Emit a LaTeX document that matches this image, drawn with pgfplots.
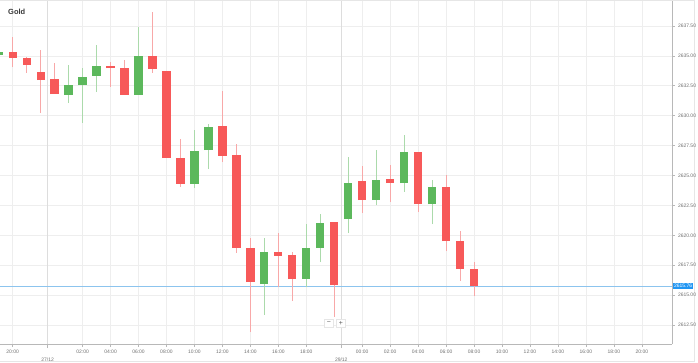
\documentclass[border=0pt]{standalone}
\usepackage{fontspec}
\setmainfont{Liberation Sans}
\usepackage{pgfplots}
\usepackage{pgfplotstable}
\pgfplotsset{compat=1.18}
\definecolor{cred}{HTML}{F75959}
\definecolor{cgreen}{HTML}{5CB85C}
\definecolor{credw}{HTML}{F8A8A8}
\definecolor{cgreenw}{HTML}{ABDAAB}
\definecolor{gridc}{HTML}{EEEEEE}
\definecolor{gridd}{HTML}{DDDDDD}
\definecolor{axisc}{HTML}{B8B8B8}
\definecolor{labc}{HTML}{707070}
\definecolor{pricebl}{HTML}{2196F3}
\definecolor{priceln}{HTML}{8CC4EE}
\definecolor{framec}{HTML}{E6E6E6}

\pgfplotstableread{
i O H L C
0 2635.32 2636.58 2634.07 2634.82
1 2634.82 2634.90 2633.57 2634.24
2 2633.65 2635.49 2630.22 2632.98
3 2633.06 2634.40 2631.81 2631.81
7 2634.15 2634.49 2632.40 2633.98
8 2633.98 2634.65 2631.73 2631.73
10 2634.99 2638.67 2633.57 2633.90
11 2633.73 2633.73 2626.46 2626.46
12 2626.46 2628.05 2624.04 2624.29
15 2629.14 2632.06 2626.12 2626.63
16 2626.71 2627.63 2618.52 2618.93
17 2618.93 2619.77 2611.91 2616.09
19 2618.60 2620.19 2615.67 2618.27
20 2618.35 2618.60 2614.50 2616.34
23 2621.11 2621.11 2613.17 2615.84
25 2624.53 2625.79 2621.86 2622.95
27 2624.70 2625.87 2622.78 2624.37
29 2626.96 2626.96 2621.94 2622.61
31 2624.04 2625.04 2618.68 2619.52
32 2619.52 2620.36 2616.18 2617.18
33 2617.18 2617.76 2614.92 2615.76
}\redtab

\pgfplotstableread{
i O H L C
-1 2635.07 2635.41 2634.99 2635.32
4 2631.73 2634.24 2631.06 2632.56
5 2632.56 2633.98 2629.39 2633.23
6 2633.32 2635.91 2631.98 2634.15
9 2631.73 2637.41 2631.73 2634.99
13 2624.29 2628.80 2623.95 2627.04
14 2627.13 2629.30 2625.54 2629.05
18 2615.92 2619.77 2613.34 2618.60
21 2616.34 2620.94 2615.67 2618.93
22 2618.93 2621.78 2617.76 2621.02
24 2621.36 2626.54 2620.19 2624.39
26 2622.95 2627.13 2622.53 2624.62
28 2624.37 2628.38 2623.62 2626.96
30 2622.61 2624.62 2620.94 2624.04
}\greentab

\pgfplotsset{candle/.style={only marks, mark=*, mark size=0pt,
  mark options={draw opacity=0, fill opacity=0}, forget plot,
  error bars/y dir=plus, error bars/y explicit, error bars/error mark=none}}

\begin{document}
\begin{tikzpicture}
\path[use as bounding box] (0,-19bp) rectangle (698bp,344bp);
\draw[framec, line width=0.7bp] (0,-17bp) -- (694bp,-17bp) -- (694bp,343.3bp) -- (0,343.3bp);
\begin{axis}[
  at={(0,0)}, anchor=south west,
  scale only axis, width=672bp, height=343bp,
  xmin=-0.908, xmax=47.16, ymin=2610.91, ymax=2639.59,
  axis x line*=bottom, axis y line*=right,
  axis line style={axisc, line width=0.8bp},
  ytick={2612.5,2615,2617.5,2620,2622.5,2625,2627.5,2630,2632.5,2635,2637.5},
  yticklabels={2612.50,2615.00,2617.50,2620.00,2622.50,2625.00,2627.50,2630.00,2632.50,2635.00,2637.50},
  xtick={0,5,7,9,11,13,15,17,19,21,25,27,29,31,33,35,37,39,41,43,45},
  xticklabels={20:00,02:00,04:00,06:00,08:00,10:00,12:00,14:00,16:00,18:00,00:00,02:00,04:00,06:00,08:00,10:00,12:00,14:00,16:00,18:00,20:00},
  extra x ticks={2.5,23.5},
  extra x tick labels={27/12,29/12},
  extra x tick style={grid style={gridd, line width=0.7bp}, tick label style={yshift=-6bp}, major tick length=4bp},
  grid=major, grid style={gridc, line width=0.6bp},
  tick align=outside, major tick length=3bp,
  tick style={axisc, line width=0.6bp},
  ticklabel style={font=\fontsize{5}{6}\selectfont, text=labc},
  yticklabel style={xshift=-0.5bp},
]
\addplot[priceln, line width=0.8bp, forget plot] coordinates {(-1,2615.76) (48,2615.76)};
% wicks
\addplot[candle, error bars/error bar style={credw, line width=1bp}]
  table[x=i, y=L, y error expr=\thisrow{H}-\thisrow{L}] {\redtab};
\addplot[candle, error bars/error bar style={cgreenw, line width=1bp}]
  table[x=i, y=L, y error expr=\thisrow{H}-\thisrow{L}] {\greentab};
% bodies
\addplot[candle, error bars/error bar style={cred, line width=8.3bp}]
  table[x=i, y=C, y error expr=\thisrow{O}-\thisrow{C}] {\redtab};
\addplot[candle, error bars/error bar style={cgreen, line width=8.3bp}]
  table[x=i, y=O, y error expr=\thisrow{C}-\thisrow{O}] {\greentab};
\coordinate (pl) at (axis cs:47.16,2615.76);
\end{axis}
\node[fill=pricebl, text=white, font=\fontsize{5}{5}\selectfont, inner sep=1.3bp, anchor=west] at ([xshift=0.6bp]pl) {2615.76};
\node[font=\bfseries\fontsize{7.5}{8}\selectfont, text=black!78, anchor=west, inner sep=0] at (8bp,332bp) {Gold};
\node[draw=framec, fill=white, font=\fontsize{7}{7}\selectfont, text=black!65, minimum width=9bp, minimum height=8bp, inner sep=0] at (329bp,21bp) {−};
\node[draw=framec, fill=white, font=\fontsize{7}{7}\selectfont, text=black!65, minimum width=9bp, minimum height=8bp, inner sep=0] at (341bp,21bp) {+};
\end{tikzpicture}
\end{document}
